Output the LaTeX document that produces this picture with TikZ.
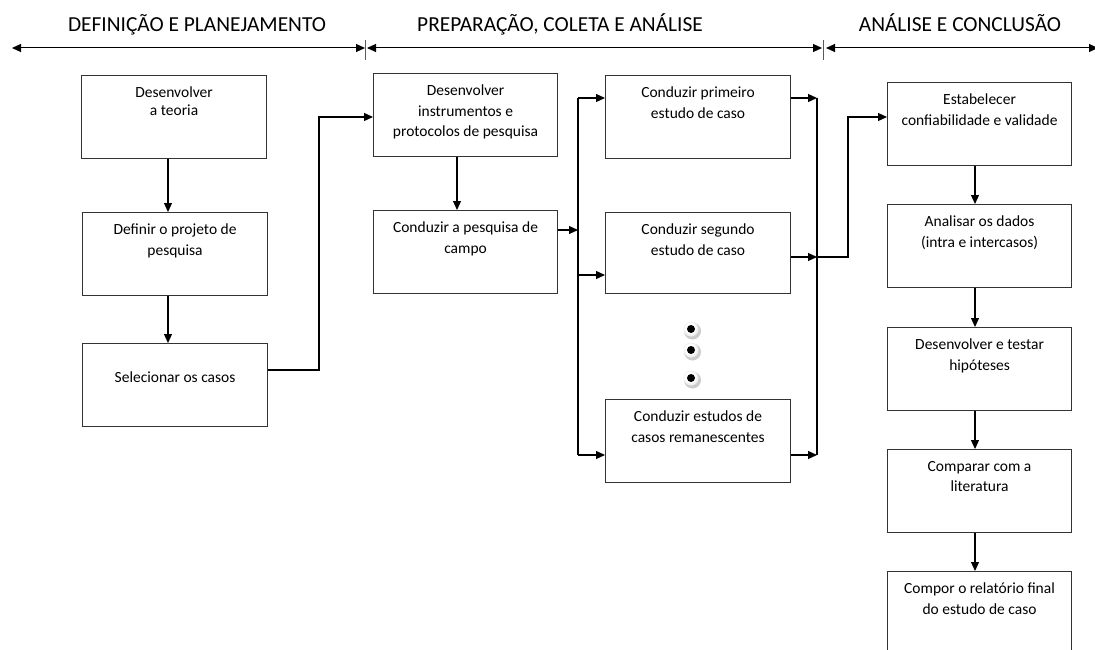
\documentclass[tikz,border=0pt]{standalone}
\usepackage{fontspec}
\setmainfont{Carlito}
\usetikzlibrary{arrows.meta}
\begin{document}
\begin{tikzpicture}[x=1pt,y=-1pt,
  box/.style={draw=black!80, line width=1.1pt, minimum width=185pt, minimum height=83pt, inner sep=0pt, anchor=north west},
  txt/.style={font=\fontsize{15.5}{20.5}\selectfont, align=center, anchor=north, inner sep=0pt, yshift=-12pt},
  conn/.style={line width=1.2pt, -{Triangle[length=9pt,width=8pt]}},
  wire/.style={line width=1.2pt},
  head/.style={font=\fontsize{21.4}{24}\selectfont, inner sep=0pt, anchor=base},
  harrow/.style={line width=1pt, {Triangle[length=9pt,width=8pt]}-{Triangle[length=9pt,width=8pt]}},
  tick/.style={line width=0.8pt, draw=black!65}]
\useasboundingbox (0,0) rectangle (1095,650);
\clip (0,0) rectangle (1095,650);

% headers
\node[head] (h1) at (197,32) {DEFINIÇÃO E PLANEJAMENTO};
\node[head] (h2) at (560,32) {PREPARAÇÃO, COLETA E ANÁLISE};
\node[head] (h3) at (960,32) {ANÁLISE E CONCLUSÃO};
\coordinate (a1) at (12,48);
\coordinate (a2) at (365,48);
\coordinate (a3) at (367,48);
\coordinate (a4) at (822,48);
\coordinate (a5) at (826,48);
\coordinate (a6) at (1098,48);
\draw[harrow] (a1) -- (a2);
\draw[harrow] (a3) -- (a4);
\draw[harrow] (a5) -- (a6);
\draw[tick] (365.5,40) -- (365.5,60);
\draw[tick] (823.5,40) -- (823.5,60);

% left column
\node[box] (b1) at (81,75) {};
\node[txt] (t1) at (b1.north) {Desenvolver\\[-3pt]a teoria};
\node[box] (b2) at (82,212) {};
\node[txt] (t2) at (b2.north) {Definir o projeto de\\pesquisa};
\node[box] (b3) at (82,343) {};
\node[txt, yshift=-17pt] (t3) at (b3.north) {Selecionar os casos};

% middle column
\node[box, minimum width=184pt] (b4) at (373,73) {};
\node[txt] (t4) at (b4.north) {Desenvolver\\instrumentos e\\protocolos de pesquisa};
\node[box, minimum width=184pt] (b5) at (373,210) {};
\node[txt] (t5) at (b5.north) {Conduzir a pesquisa de\\campo};
\node[box] (b6) at (605,75) {};
\node[txt] (t6) at (b6.north) {Conduzir primeiro\\estudo de caso};
\node[box, minimum height=81pt] (b7) at (605,212) {};
\node[txt] (t7) at (b7.north) {Conduzir segundo\\estudo de caso};
\node[box] (b8) at (605,399) {};
\node[txt] (t8) at (b8.north) {Conduzir estudos de\\casos remanescentes};

% right column
\node[box, minimum width=184pt] (b9) at (887,82) {};
\node[txt] (t9) at (b9.north) {Estabelecer\\confiabilidade e validade};
\node[box, minimum width=184pt] (b10) at (887,204) {};
\node[txt] (t10) at (b10.north) {Analisar os dados\\(intra e intercasos)};
\node[box, minimum width=184pt] (b11) at (887,327) {};
\node[txt] (t11) at (b11.north) {Desenvolver e testar\\hipóteses};
\node[box, minimum width=184pt] (b12) at (887,449) {};
\node[txt] (t12) at (b12.north) {Comparar com a\\literatura};
\node[box, minimum width=184pt, minimum height=110pt] (b13) at (887,571) {};
\node[txt] (t13) at (b13.north) {Compor o relatório final\\do estudo de caso};

% dots
\foreach \yy in {329,350,378}{
  \fill[black!20] (692.5,\yy+2) circle (8.5pt);
  \fill[black!6] (691,\yy) circle (7.5pt);
  \fill[white] (690.5,\yy-0.5) circle (6pt);
  \fill[black] (691,\yy) circle (4pt);
}

% connectors left
\draw[conn] (b1.south -| 168,0) -- (b2.north -| 168,0);
\draw[conn] (b2.south -| 168,0) -- (b3.north -| 168,0);
\draw[conn] (b3.east |- 0,370) -- (319,370) -- (319,117) -- (b4.west |- 0,117);

% connectors middle
\draw[conn] (b4.south -| 457,0) -- (b5.north -| 457,0);
\coordinate (s1) at (578,98);
\coordinate (s2) at (578,230);
\coordinate (s3) at (578,275);
\coordinate (s4) at (578,455);
\draw[wire] (s1) -- (s4);
\draw[conn] (b5.east |- s2) -- (s2);
\draw[conn] (s1) -- (b6.west |- s1);
\draw[conn] (s3) -- (b7.west |- s3);
\draw[conn] (s4) -- (b8.west |- s4);
\coordinate (m1) at (817,98);
\coordinate (m2) at (817,257);
\coordinate (m3) at (817,455);
\draw[wire] (m1) -- (m3);
\draw[conn] (b6.east |- m1) -- (m1);
\draw[conn] (b7.east |- m2) -- (m2);
\draw[conn] (b8.east |- m3) -- (m3);
\draw[conn] (m2) -- (848,257) -- (848,117) -- (b9.west |- 0,117);

% connectors right
\draw[conn] (b9.south -| 975,0) -- (b10.north -| 975,0);
\draw[conn] (b10.south -| 975,0) -- (b11.north -| 975,0);
\draw[conn] (b11.south -| 975,0) -- (b12.north -| 975,0);
\draw[conn] (b12.south -| 975,0) -- (b13.north -| 975,0);
\end{tikzpicture}
\end{document}
